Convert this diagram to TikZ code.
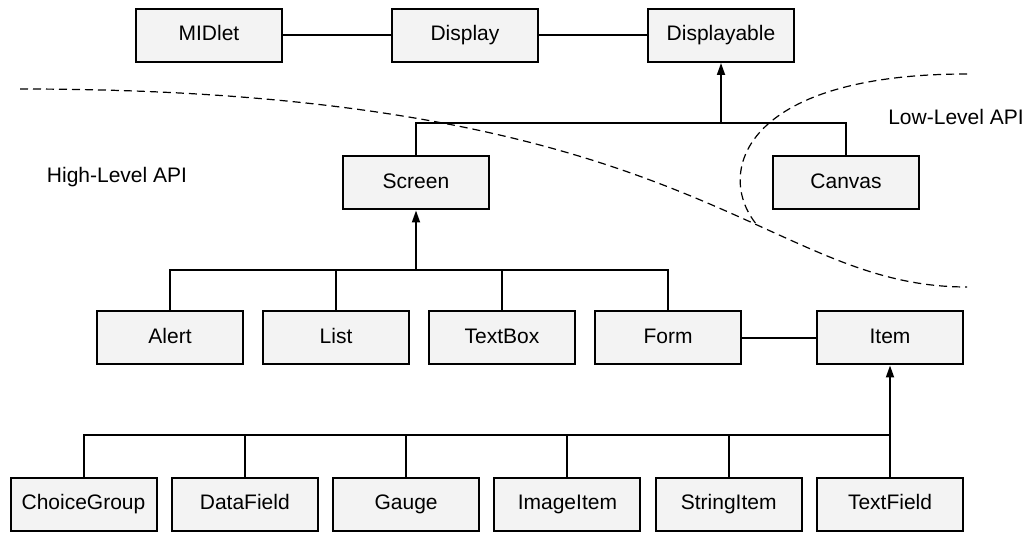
\documentclass[tikz,border=0pt]{standalone}
\usepackage{fontspec}
\setmainfont{Liberation Sans}
\usetikzlibrary{arrows.meta,positioning}
\definecolor{boxgray}{RGB}{243,243,243}
\tikzset{
	classbox/.style={
		rectangle,
		draw=black, line width=1pt,
		fill=boxgray,
		minimum width=73pt,
		minimum height=26.5pt,
		inner sep=2pt,
		text height=0.75em,
		text depth=0.22em,
		text centered,
		font=\fontsize{10.5pt}{12pt}\selectfont,
	},
	link/.style={line width=1pt},
	inherit/.style={line width=0.9pt, -{Triangle[length=6pt,width=4pt]}},
	apiborder/.style={line width=0.6pt, dash pattern=on 4pt off 2.5pt},
	apilabel/.style={font=\fontsize{10.5pt}{12pt}\selectfont},
}

\begin{document}
\begin{tikzpicture}[x=0.5pt,y=-0.5pt,node distance=54pt]
\useasboundingbox (0,0) rectangle (1031,533);

\node	(midlet)	[classbox]	at (209,35.5)	{MIDlet};
\node	(display)	[classbox]	[right=of midlet]	{Display};
\node	(displayable)	[classbox]	[right=of display]	{Displayable};

\node	(screen)	[classbox]	at (416,183)	{Screen};
\node	(canvas)	[classbox]	[right=141pt of screen]	{Canvas};

\node	(alert)	[classbox]	at (170,338)	{Alert};
\node	(list)	[classbox]	[right=9pt of alert]	{List};
\node	(textbox)	[classbox]	[right=9pt of list]	{TextBox};
\node	(form)	[classbox]	[right=9pt of textbox]	{Form};
\node	(item)	[classbox]	[right=37pt of form]	{Item};

\node	(choicegroup)	[classbox]	at (83.5,504.5)	{ChoiceGroup};
\node	(datafield)	[classbox]	[right=6.65pt of choicegroup]	{DataField};
\node	(gauge)	[classbox]	[right=6.65pt of datafield]	{Gauge};
\node	(imageitem)	[classbox]	[right=6.65pt of gauge]	{ImageItem};
\node	(stringitem)	[classbox]	[right=6.65pt of imageitem]	{StringItem};
\node	(textfield)	[classbox]	[right=6.65pt of stringitem]	{TextField};

\node	(highapi)	[apilabel]	at (117,177)	{High-Level API};
\node	(lowapi)	[apilabel]	at (956,117)	{Low-Level API};

% bus heights
\coordinate (topbus) at (0,123);
\coordinate (midbus) at (0,270);
\coordinate (lowbus) at (0,435);

\draw[link] (midlet) -- (display);
\draw[link] (display) -- (displayable);
\draw[link] (form) -- (item);

\draw[link] (screen.north) -- (screen.north |- topbus) -- (canvas.north |- topbus) -- (canvas.north);
\draw[inherit] (displayable.south |- topbus) -- (displayable.south);

\draw[link] (alert.north) -- (alert.north |- midbus) -- (form.north |- midbus) -- (form.north);
\foreach \n in {list,textbox}
	\draw[link] (\n.north) -- (\n.north |- midbus);
\draw[inherit] (screen.south |- midbus) -- (screen.south);

\draw[link] (choicegroup.north) -- (choicegroup.north |- lowbus) -- (textfield.north |- lowbus);
\foreach \n in {datafield,gauge,imageitem,stringitem}
	\draw[link] (\n.north) -- (\n.north |- lowbus);
\draw[inherit] (textfield.north) -- (item.south);

% API borders
\draw[apiborder] (20,89) .. controls (700,89) and (760,287) .. (967,287);
\draw[apiborder] (967,74) .. controls (740,74) and (715,175) .. (757,225);

\end{tikzpicture}
\end{document}
